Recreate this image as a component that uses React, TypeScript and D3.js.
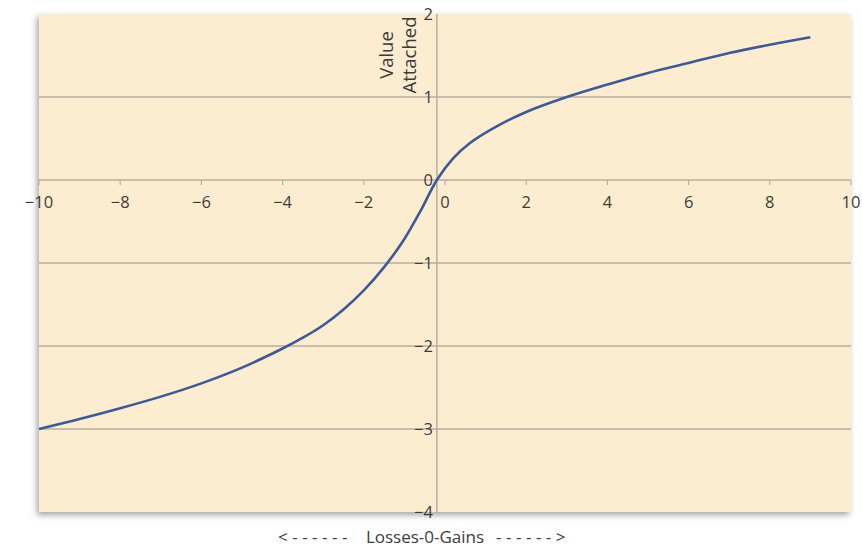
import React from 'react';
import * as d3 from 'd3';

// value function curve
const GAIN_LOSS = [-10, -9, -8, -7, -6, -5, -4, -3.5, -3, -2.5, -2, -1.5, -1, -0.6, -0.2, 0.2, 0.6, 1.25, 2, 3, 4, 5, 6, 7, 8, 9];
const VALUE = [-3.0, -2.88, -2.75, -2.61, -2.45, -2.26, -2.03, -1.9, -1.75, -1.56, -1.33, -1.05, -0.71, -0.37, 0, 0.26, 0.44, 0.64, 0.82, 1.0, 1.15, 1.29, 1.41, 1.53, 1.63, 1.72];

const X_TICKS = [-10, -8, -6, -4, -2, 0, 2, 4, 6, 8, 10];
const Y_TICKS = [2, 1, 0, -1, -2, -3, -4];
const Y_AXIS_CROSS = -0.2; // vertical axis sits a touch left of zero

const W = 862;
const H = 552;
const margin = { top: 14, right: 10, bottom: 40, left: 39 };
const FONT = '"Open Sans", "Liberation Sans", sans-serif';

const fmt = (v: number) => (v < 0 ? '\u2212' + Math.abs(v) : String(v));

export default function App() {
  const x = d3.scaleLinear().domain([-10, 10]).range([margin.left, W - margin.right - 1]);
  const y = d3.scaleLinear().domain([-4, 2]).range([H - margin.bottom, margin.top]);

  const points: [number, number][] = GAIN_LOSS.map((g, i) => [g, VALUE[i]]);
  const line = d3.line<[number, number]>()
    .x(d => x(d[0]))
    .y(d => y(d[1]))
    .curve(d3.curveCatmullRom.alpha(0.5));

  const x0 = x(-10), x1 = x(10), yTop = y(2), yBot = y(-4);
  const axisX = x(Y_AXIS_CROSS);
  const gridColor = '#b9ada0';
  const textColor = '#3b3b3b';

  return (
    <svg width={W} height={H} style={{ position: 'absolute', left: 0, top: 0, background: '#fff' }}>
      <defs>
        <filter id="shadow" x="-5%" y="-5%" width="110%" height="115%">
          <feDropShadow dx="-2" dy="3" stdDeviation="3" floodColor="#555" floodOpacity="0.55" />
        </filter>
      </defs>

      {/* plot area */}
      <rect x={x0} y={yTop} width={x1 - x0} height={yBot - yTop} fill="#fdedd0" filter="url(#shadow)" />

      {/* horizontal gridlines */}
      {Y_TICKS.filter(t => t !== 2 && t !== -4 && t !== 0).map(t => (
        <line key={t} x1={x0} x2={x1} y1={y(t)} y2={y(t)} stroke={gridColor} strokeWidth={1.5} />
      ))}

      {/* x axis */}
      <line x1={x0} x2={x1} y1={y(0)} y2={y(0)} stroke={gridColor} strokeWidth={1.5} />
      {X_TICKS.map(t => (
        <g key={t}>
          <line x1={x(t)} x2={x(t)} y1={y(0)} y2={y(0) + 5} stroke={gridColor} strokeWidth={1.2} />
          <text x={x(t)} y={y(0) + 28} textAnchor="middle" fontFamily={FONT} fontSize={16.5} fill={textColor}>
            {fmt(t)}
          </text>
        </g>
      ))}

      {/* y axis */}
      <line x1={axisX} x2={axisX} y1={yTop} y2={yBot} stroke={gridColor} strokeWidth={1.5} />
      {Y_TICKS.map(t => (
        <text key={t} x={axisX - 4} y={y(t)} dy="0.36em" textAnchor="end" fontFamily={FONT} fontSize={16.5} fill={textColor}>
          {fmt(t)}
        </text>
      ))}
      <text transform={`translate(${axisX - 44},${yTop + 41}) rotate(-90)`} textAnchor="middle" fontFamily={FONT} fontSize={18.5} fill={textColor}>
        Value
      </text>
      <text transform={`translate(${axisX - 21},${yTop + 41}) rotate(-90)`} textAnchor="middle" fontFamily={FONT} fontSize={18.5} fill={textColor}>
        Attached
      </text>

      {/* curve */}
      <path d={line(points) || ''} fill="none" stroke="#3d5a97" strokeWidth={2.6} />

      {/* bottom caption */}
      <text x={352} y={543} textAnchor="end" fontFamily={FONT} fontSize={17} fill={textColor} letterSpacing={4.5}>
        {'<------'}
      </text>
      <text x={425} y={543} textAnchor="middle" fontFamily={FONT} fontSize={17} fill={textColor}>
        Losses-0-Gains
      </text>
      <text x={496} y={543} textAnchor="start" fontFamily={FONT} fontSize={17} fill={textColor} letterSpacing={4.5}>
        {'------>'}
      </text>
    </svg>
  );
}
